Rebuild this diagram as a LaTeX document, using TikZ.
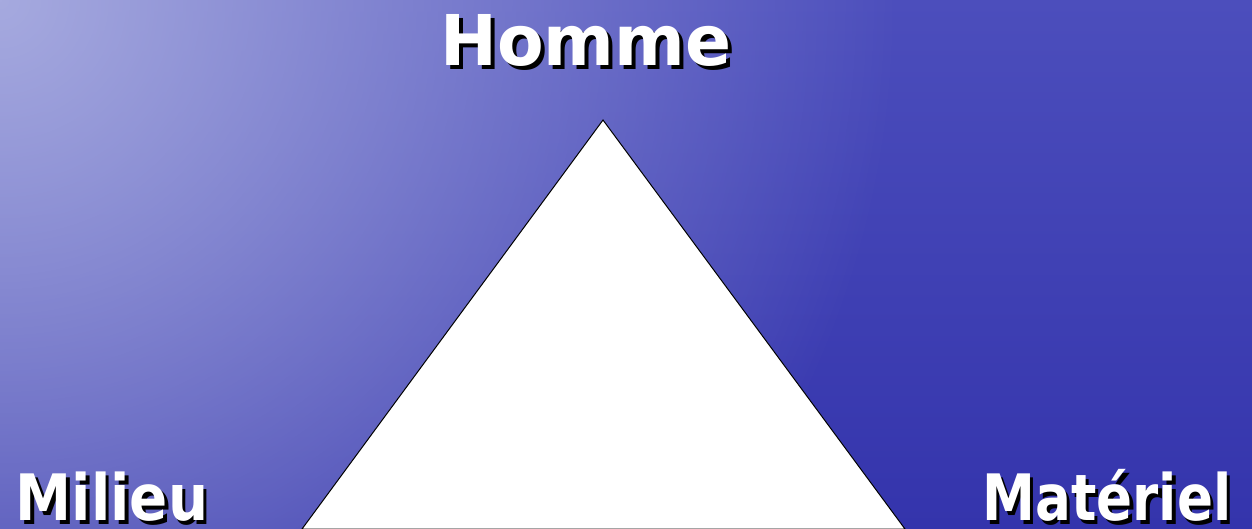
\documentclass[tikz,border=0pt]{standalone}
\usepackage{fontspec}
\setmainfont{DejaVu Sans}
\usetikzlibrary{positioning,fadings}

\definecolor{seablue}{HTML}{3434AC}
\definecolor{seatop}{HTML}{4C4EBC}
\definecolor{seahaze}{HTML}{A6AADF}

\tikzfading[name=glowfade, inner color=transparent!0, outer color=transparent!100]

% white word with a black drop shadow, squeezed sideways by #1
\newcommand{\shadowword}[2]{%
    \scalebox{#1}[1]{\makebox[0pt][l]{\hspace{4pt}\raisebox{-4pt}{\color{black}#2}}#2}}

\begin{document}
\begin{tikzpicture}[
    x=1pt, y=-1pt,
    corner/.style={
        text=white,
        inner sep=0pt,
        anchor=base,
        font=\fontsize{64}{76}\selectfont\bfseries
    },
    summit/.style={
        corner,
        font=\fontsize{70}{84}\selectfont\bfseries
    },
    apex/.style={
        draw=black,
        fill=white,
        line width=1pt
    }
]

    % --- Background ---
    \useasboundingbox (0,0) rectangle (1252,528);
    \shade[top color=seatop, bottom color=seablue] (0,0) rectangle (1252,528);
    \begin{scope}
        \clip (0,0) rectangle (1252,528);
        \fill[seahaze, path fading=glowfade] (0,0) circle (900);
    \end{scope}

    % --- Triangle ---
    \coordinate (top) at (603,120);
    \coordinate (left) at (302,529);
    \coordinate (right) at (905,529);
    \draw[apex] (top) -- (left) -- (right) -- cycle;

    % --- Labels ---
    \node[summit] (homme) at (586,65) {\shadowword{0.97}{Homme}};
    \node[corner] (milieu) at (112,520) {\shadowword{0.88}{Milieu}};
    \node[corner] (materiel) at (1107,520) {\shadowword{0.83}{Matériel}};

\end{tikzpicture}
\end{document}
